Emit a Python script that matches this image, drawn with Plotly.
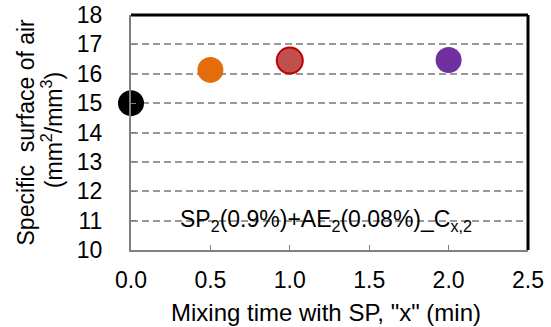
import plotly.graph_objects as go

mixing_time = [0.0, 0.5, 1.0, 2.0]
surface = [15.0, 16.13, 16.45, 16.47]
fill_colors = ["#000000", "#E46C0A", "#C0504D", "#7030A0"]
line_colors = ["#000000", "#E46C0A", "#C00000", "#7030A0"]
line_widths = [0, 0, 2, 0]
y_ticks = [10, 11, 12, 13, 14, 15, 16, 17, 18]
x_ticks = [0.0, 0.5, 1.0, 1.5, 2.0, 2.5]

FONT = "Liberation Sans, Arial, sans-serif"
FS = 23

fig = go.Figure()
fig.add_trace(go.Scatter(
    x=mixing_time, y=surface, mode="markers", cliponaxis=False,
    marker=dict(size=26, color=fill_colors,
                line=dict(color=line_colors, width=line_widths)),
    showlegend=False,
))

fig.update_layout(
    width=551, height=327,
    margin=dict(l=131, r=23, t=15, b=77, autoexpand=False),
    paper_bgcolor="white", plot_bgcolor="white",
    font=dict(family=FONT, size=FS, color="#000000"),
    xaxis=dict(range=[0, 2.5], tickvals=x_ticks, ticktext=[f"{v:.1f}" for v in x_ticks],
               showgrid=False, zeroline=False, showline=True, linecolor="#808080", linewidth=2,
               ticks="inside", ticklen=5, tickcolor="#808080", tickwidth=1,
               ticklabelstandoff=8, automargin=False),
    yaxis=dict(range=[10, 18], tickvals=y_ticks, showgrid=True, gridcolor="#999999",
               griddash="7px,4px", gridwidth=1.8, zeroline=False, showline=True,
               linecolor="#808080", linewidth=2, ticks="inside", ticklen=5,
               tickcolor="#808080", tickwidth=1, ticklabelstandoff=22, automargin=False),
    shapes=[
        dict(type="line", xref="paper", yref="paper", x0=0, x1=1, y0=1, y1=1,
             line=dict(color="#000000", width=3)),
        dict(type="line", xref="paper", yref="paper", x0=1, x1=1, y0=0, y1=1,
             line=dict(color="#000000", width=3)),
    ],
    annotations=[
        dict(text="SP<sub>2</sub>(0.9%)+AE<sub>2</sub>(0.08%)_C<sub>x,2</sub>",
             x=1.231, y=11.0, xref="x", yref="y", showarrow=False,
             font=dict(size=FS)),
        dict(text="Mixing time with SP, \"x\" (min)", x=0.49, y=-0.264,
             xref="paper", yref="paper", showarrow=False, yanchor="middle",
             font=dict(size=24)),
        dict(text="Specific  surface of air",
             x=-0.267, y=0.5, xref="paper", yref="paper", showarrow=False,
             textangle=-90, xanchor="center", yanchor="middle",
             font=dict(size=FS)),
        dict(text="(mm<sup>2</sup>/mm<sup>3</sup>)",
             x=-0.199, y=0.51, xref="paper", yref="paper", showarrow=False,
             textangle=-90, xanchor="center", yanchor="middle",
             font=dict(size=FS)),
    ],
)

fig.write_html("out.html")
